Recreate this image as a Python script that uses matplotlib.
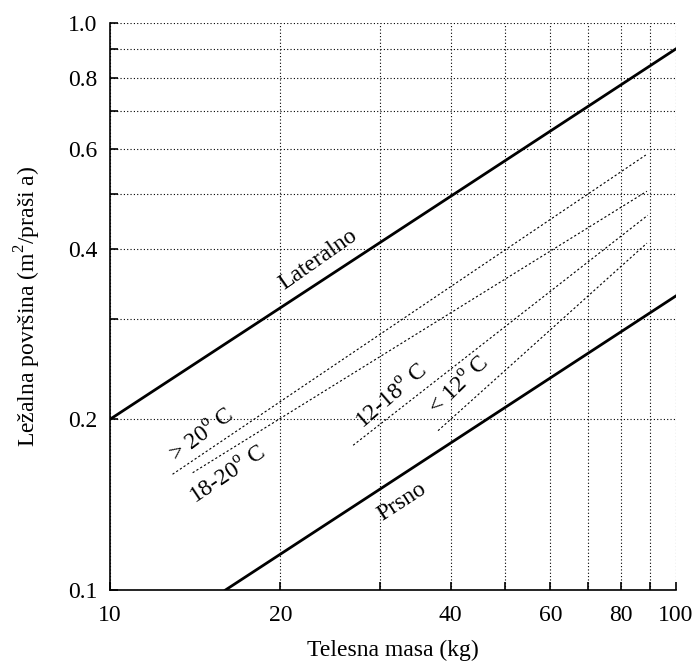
# Lying area of pigs vs. body mass (log-log)
import numpy as np
import matplotlib.pyplot as plt

plt.rcParams['font.family'] = ['Liberation Serif', 'DejaVu Serif']
plt.rcParams['mathtext.fontset'] = 'custom'
plt.rcParams['mathtext.rm'] = 'Liberation Serif'

# Input data (line end points)
lateral_x = [10, 100]
lateral_y = [0.2, 0.9]
sternal_x = [16, 100]
sternal_y = [0.1, 0.33]

temp_names = ['> 20$^{\\rm o}$ C', '18-20$^{\\rm o}$ C', '12-18$^{\\rm o}$ C', '< 12$^{\\rm o}$ C']
temp_x = [[12.9, 88.5], [14.0, 88.9], [26.9, 89.2], [38.0, 88.9]]
temp_y = [[0.160, 0.585], [0.161, 0.505], [0.180, 0.458], [0.191, 0.409]]

xticks = [10, 20, 30, 40, 50, 60, 70, 80, 90, 100]
xlabels = ['10', '20', '', '40', '', '60', '', '80', '', '100']
yticks = [0.1, 0.2, 0.3, 0.4, 0.5, 0.6, 0.7, 0.8, 0.9, 1.0]
ylabels = ['0.1', '0.2', '', '0.4', '', '0.6', '', '0.8', '', '1.0']

fig = plt.figure(figsize=(6.96, 6.61), dpi=100)
ax = fig.add_axes([0.158, 0.1074, 0.813, 0.8578])

ax.set_xscale('log')
ax.set_yscale('log')
ax.set_xlim(10, 100)
ax.set_ylim(0.1, 1.0)

ax.plot(lateral_x, lateral_y, color='black', linewidth=2.0)
ax.plot(sternal_x, sternal_y, color='black', linewidth=2.0)
for tx, ty in zip(temp_x, temp_y):
	ax.plot(tx, ty, color='black', linewidth=0.8, linestyle=(0, (2, 2)))

ax.set_xticks(xticks)
ax.set_xticklabels(xlabels)
ax.set_yticks(yticks)
ax.set_yticklabels(ylabels)
ax.minorticks_off()
ax.tick_params(direction='in', length=6, width=1.2, labelsize=17, pad=9)
ax.tick_params(axis='x', pad=11)

ax.grid(True, color='black', linestyle=(0, (1, 2)), linewidth=0.8)
for s in ['top', 'right']:
	ax.spines[s].set_visible(False)
for s in ['left', 'bottom']:
	ax.spines[s].set_linewidth(1.2)

# Curve labels
fs = 17
ax.text(23.3, 0.382, 'Lateralno', fontsize=fs, rotation=35, ha='center', va='center')
ax.text(32.8, 0.143, 'Prsno', fontsize=fs, rotation=33, ha='center', va='center')
ax.text(14.6, 0.187, temp_names[0], fontsize=fs, rotation=37, ha='center', va='center')
ax.text(16.2, 0.159, temp_names[1], fontsize=fs, rotation=34, ha='center', va='center')
ax.text(31.5, 0.219, temp_names[2], fontsize=fs, rotation=41, ha='center', va='center')
ax.text(41.5, 0.229, temp_names[3], fontsize=fs, rotation=44, ha='center', va='center')

ax.set_xlabel('Telesna masa (kg)', fontsize=fs, labelpad=10)
ax.set_ylabel('Ležalna površina (m$^2$/praši a)', fontsize=fs, labelpad=18)

plt.savefig('out.png', dpi=100)
